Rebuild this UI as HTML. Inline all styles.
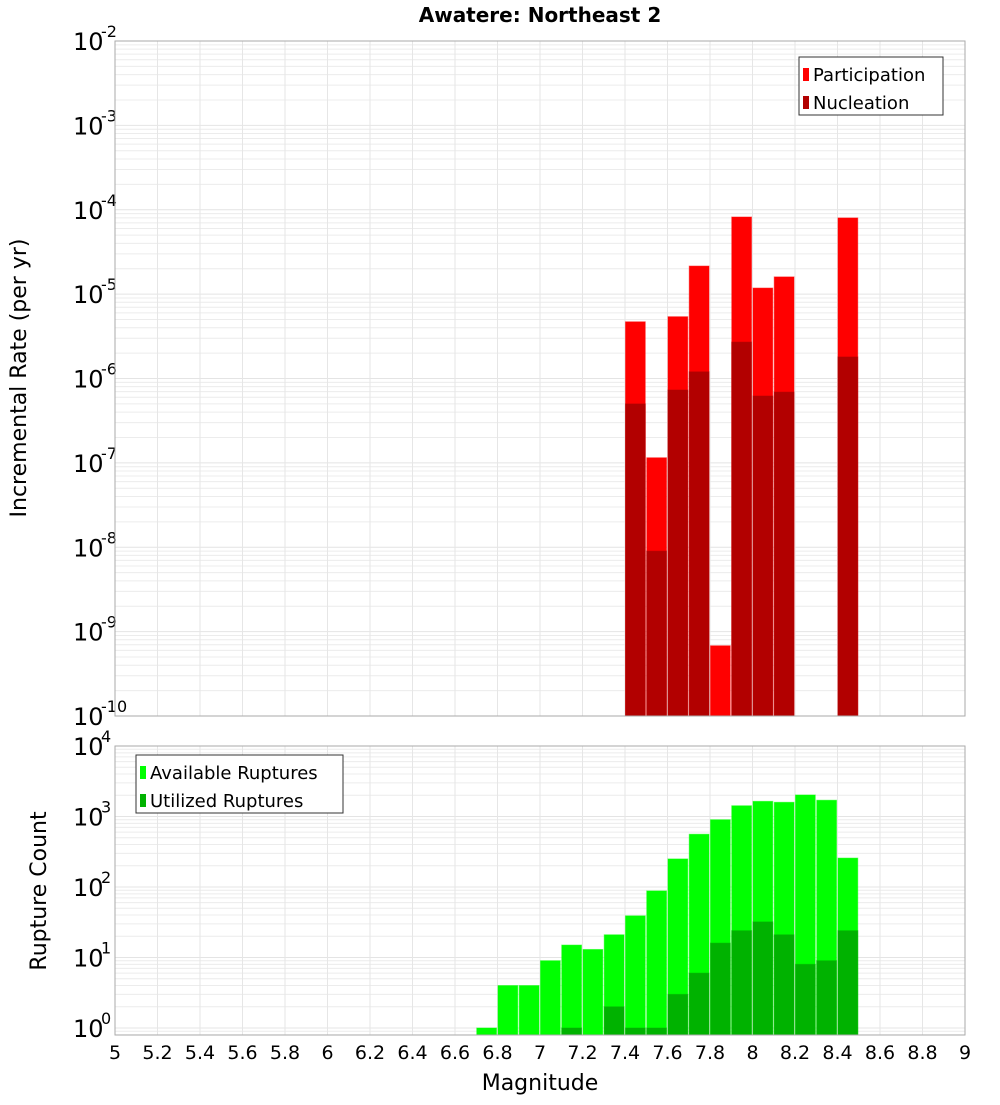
<!DOCTYPE html>
<html><head><meta charset="utf-8"><style>
body{margin:0;background:#fff;font-family:"Liberation Sans","DejaVu Sans",sans-serif}
svg text{font-family:"DejaVu Sans","Liberation Sans",sans-serif}
</style></head><body>
<svg id="chart" width="1000" height="1100" xmlns="http://www.w3.org/2000/svg">
<rect width="1000" height="1100" fill="#fff"/>
<text x="540" y="22" font-size="20" font-weight="bold" text-anchor="middle">Awatere: Northeast 2</text>
<g id="top"></g><g id="bot"></g>
<text transform="translate(26,378) rotate(-90)" font-size="22" text-anchor="middle">Incremental Rate (per yr)</text>
<text transform="translate(46,891) rotate(-90)" font-size="22" text-anchor="middle">Rupture Count</text>
<text x="540" y="1090" font-size="22" text-anchor="middle">Magnitude</text>
</svg>
<script>
const binStarts=[6.7,6.8,6.9,7.0,7.1,7.2,7.3,7.4,7.5,7.6,7.7,7.8,7.9,8.0,8.1,8.2,8.3,8.4];
const participation=[0,0,0,0,0,0,0,4.7e-6,1.15e-7,5.4e-6,2.15e-5,6.8e-10,8.2e-5,1.18e-5,1.6e-5,0,0,8e-5];
const nucleation=[0,0,0,0,0,0,0,5e-7,9e-9,7.3e-7,1.2e-6,0,2.7e-6,6.2e-7,6.9e-7,0,0,1.8e-6];
const available=[1,4,4,9,15,13,21,39,88,250,560,900,1420,1640,1590,2020,1700,257];
const utilized=[0,0,0,0,1,0,2,1,1,3,6,16,24,32,21,8,9,24];
const xTicks=[5,5.2,5.4,5.6,5.8,6,6.2,6.4,6.6,6.8,7,7.2,7.4,7.6,7.8,8,8.2,8.4,8.6,8.8,9];
const topExps=[-2,-3,-4,-5,-6,-7,-8,-9,-10];
const botExps=[4,3,2,1,0];

const NS="http://www.w3.org/2000/svg";
const L=115,R=965;
const x=m=>L+(m-5)/4*(R-L);
const T1=41,B1=716,T2=746,B2=1035;
const yTop=v=>T1+(-2-Math.log10(v))*(B1-T1)/8;
const yBot=v=>1028-70.5*Math.log10(v);
function el(tag,a,p){const e=document.createElementNS(NS,tag);for(const k in a)e.setAttribute(k,a[k]);p.appendChild(e);return e;}

function panel(g,T,B,lo,hi,yf,exps,name){
  el('rect',{x:L,y:T,width:R-L,height:B-T,fill:'#fff'},g);
  for(let d=lo;d<hi;d++)for(let k=1;k<10;k++){const yy=yf(k*Math.pow(10,d));if(yy<T||yy>B)continue;
    const ln=el('line',{x1:L,x2:R,y1:yy,y2:yy,stroke:k==1?'#e4e4e4':'#ececec','stroke-width':1},g);
    }
  xTicks.forEach(t=>{const ln=el('line',{x1:x(t),x2:x(t),y1:T,y2:B,stroke:'#e6e6e6'},g);
    });
  exps.forEach(e=>{const yy=yf(Math.pow(10,e));
    const t=el('text',{x:73,y:yy+9,'font-size':24},g);t.textContent='10';
    
    const s=el('text',{x:101,y:yy-4,'font-size':16},g);s.textContent=String(e);
    });
}
const gt=document.getElementById('top'),gb=document.getElementById('bot');
panel(gt,T1,B1,-10,-2,yTop,topExps,'top');
panel(gb,T2,B2,-1,4,yBot,botExps,'bottom');
function bars(g,vals,yf,B,color,name){vals.forEach((v,i)=>{if(v<=0)return;
  const x0=x(binStarts[i]),x1=x(binStarts[i]+0.1),yy=Math.max(yf(v),0);
  const r=el('rect',{x:x0+0.5,y:yy,width:x1-x0-1.5,height:B-yy,fill:color,stroke:color,'stroke-opacity':0.5},g);
  });}
bars(gt,participation,yTop,B1,'#ff0000','participation-bar');
bars(gt,nucleation,yTop,B1,'#b20000','nucleation-bar');
bars(gb,available,yBot,B2,'#00ff00','available-bar');
bars(gb,utilized,yBot,B2,'#00b200','utilized-bar');
el('rect',{x:L,y:T1,width:R-L,height:B1-T1,fill:'none',stroke:'#aaa'},gt);
el('rect',{x:L,y:T2,width:R-L,height:B2-T2,fill:'none',stroke:'#aaa'},gb);
xTicks.forEach(t=>{const tx=el('text',{x:x(t),y:1059,'font-size':19,'text-anchor':'middle'},gb);tx.textContent=String(t);
  });
function legend(g,lx,ly,w,items,name){
  const bx=el('rect',{x:lx,y:ly,width:w,height:58,fill:'#fff',stroke:'#333'},g);
  
  items.forEach((it,i)=>{const yy=ly+18+i*28;
    const sw=el('rect',{x:lx+4,y:yy-7,width:6,height:13,fill:it[1]},g);
    
    const t=el('text',{x:lx+14,y:yy+6,'font-size':18},g);t.textContent=it[0];
    });
}
legend(gt,799,57,144,[['Participation','#ff0000'],['Nucleation','#b20000']],'top-legend');
legend(gb,136,755,207,[['Available Ruptures','#00ff00'],['Utilized Ruptures','#00b200']],'bottom-legend');
</script>
</body></html>
